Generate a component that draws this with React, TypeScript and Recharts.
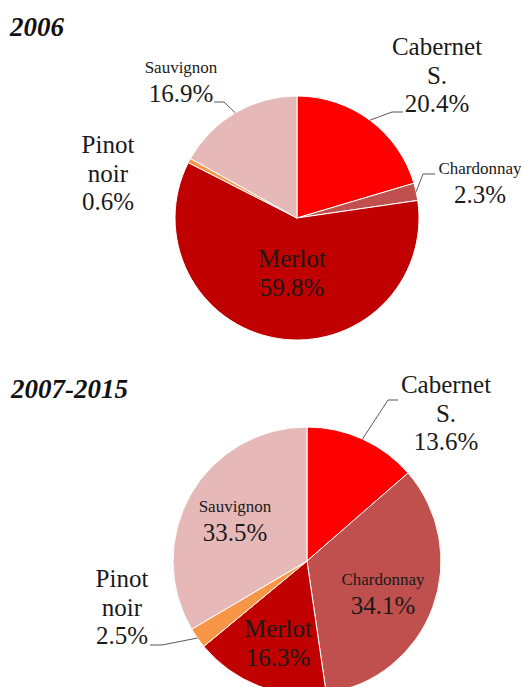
import React from "react";
import { PieChart, Pie, Cell } from "recharts";

const varieties = ["Cabernet S.", "Chardonnay", "Merlot", "Pinot noir", "Sauvignon"];
const share2006 = [20.4, 2.3, 59.8, 0.6, 16.9];
const share2007to2015 = [13.6, 34.1, 16.3, 2.5, 33.5];
const periods = ["2006", "2007-2015"];

const COLORS: { [key: string]: string } = {
  "Cabernet S.": "#ff0000",
  Chardonnay: "#c0504d",
  Merlot: "#c00000",
  "Pinot noir": "#f79646",
  Sauvignon: "#e6b9b8",
};

// names drawn in the small font
const SMALL_NAMES = ["Chardonnay", "Sauvignon"];
const NAME_LINES: { [key: string]: string[] } = {
  "Cabernet S.": ["Cabernet", "S."],
  "Pinot noir": ["Pinot", "noir"],
};

const FONT = "'Liberation Serif', 'Times New Roman', Times, serif";
const BIG = 25;
const SMALL = 17;
const LINE = 28.5;
const RADIAN = Math.PI / 180;

// label placement relative to pie center: text center x, first baseline y,
// optional leader elbow (ex, ey) and end x (hx)
type Place = { dx: number; dy: number; ex?: number; ey?: number; hx?: number };

const PLACES_2006: { [key: string]: Place } = {
  "Cabernet S.": { dx: 140, dy: -163, ex: 95, ey: -106, hx: 106 },
  Chardonnay: { dx: 183, dy: -44, ex: 126, ey: -44, hx: 138 },
  Merlot: { dx: -5, dy: 49 },
  "Pinot noir": { dx: -189, dy: -65 },
  Sauvignon: { dx: -116, dy: -145, ex: -73, ey: -116, hx: -83 },
};

const PLACES_LATER: { [key: string]: Place } = {
  "Cabernet S.": { dx: 139, dy: -168, ex: 81, ey: -161, hx: 91 },
  Chardonnay: { dx: 76, dy: 24 },
  Merlot: { dx: -29, dy: 76 },
  "Pinot noir": { dx: -185, dy: 26, ex: -145, ey: 84, hx: -157 },
  Sauvignon: { dx: -72, dy: -49 },
};

const toRows = (values: number[]) => varieties.map((name, i) => ({ name, value: values[i] }));

const makeLabel = (places: { [key: string]: Place }) => (props: any) => {
  const { cx, cy, midAngle, outerRadius, name, value } = props;
  const p = places[name];
  if (!p) return null;
  const nameLines = NAME_LINES[name] || [name];
  const small = SMALL_NAMES.includes(name);
  const x = cx + p.dx;
  let leader = null;
  if (p.ex !== undefined && p.ey !== undefined && p.hx !== undefined) {
    const sx = cx + outerRadius * Math.cos(-midAngle * RADIAN);
    const sy = cy + outerRadius * Math.sin(-midAngle * RADIAN);
    leader = (
      <polyline
        points={`${sx},${sy} ${cx + p.ex},${cy + p.ey} ${cx + p.hx},${cy + p.ey}`}
        fill="none"
        stroke="#595959"
        strokeWidth={1}
      />
    );
  }
  return (
    <g>
      {leader}
      <text x={x} y={cy + p.dy} textAnchor="middle" fill="#1a1a1a" style={{ fontFamily: FONT }}>
        {nameLines.map((line, i) => (
          <tspan key={i} x={x} dy={i === 0 ? 0 : LINE} style={{ fontSize: small ? SMALL : BIG }}>
            {line}
          </tspan>
        ))}
        <tspan x={x} dy={LINE} style={{ fontSize: BIG }}>
          {value.toFixed(1)}%
        </tspan>
      </text>
    </g>
  );
};

const titleStyle: React.CSSProperties = {
  fontFamily: FONT,
  fontWeight: "bold",
  fontStyle: "italic",
  fontSize: 27,
};

export default function App() {
  return (
    <div style={{ width: 521, height: 687, background: "#fff" }}>
      <style>{`body{margin:0}`}</style>
      <PieChart width={521} height={687}>
        <text x={10} y={36} fill="#111" style={titleStyle}>
          {periods[0]}
        </text>
        <text x={11} y={398} fill="#111" style={titleStyle}>
          {periods[1]}
        </text>
        <Pie
          data={toRows(share2006)}
          dataKey="value"
          nameKey="name"
          cx={292}
          cy={213}
          outerRadius={122}
          startAngle={90}
          endAngle={-270}
          stroke="#ffffff"
          strokeWidth={1}
          label={makeLabel(PLACES_2006)}
          labelLine={false}
          isAnimationActive={false}
        >
          {varieties.map((v) => (
            <Cell key={v} fill={COLORS[v]} />
          ))}
        </Pie>
        <Pie
          data={toRows(share2007to2015)}
          dataKey="value"
          nameKey="name"
          cx={302}
          cy={556}
          outerRadius={134}
          startAngle={90}
          endAngle={-270}
          stroke="#ffffff"
          strokeWidth={1}
          label={makeLabel(PLACES_LATER)}
          labelLine={false}
          isAnimationActive={false}
        >
          {varieties.map((v) => (
            <Cell key={v} fill={COLORS[v]} />
          ))}
        </Pie>
      </PieChart>
    </div>
  );
}
